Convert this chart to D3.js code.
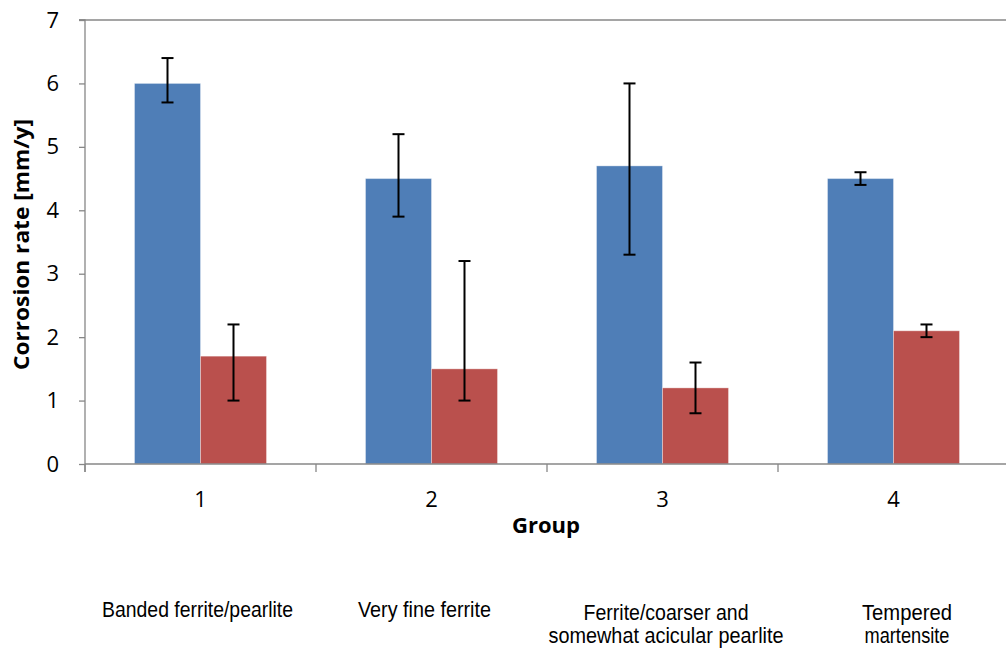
<!DOCTYPE html>
<html>
<head>
<meta charset="utf-8">
<script src="https://cdn.jsdelivr.net/npm/d3@7"></script>
<style>
  html, body { margin: 0; padding: 0; background: #fff; }
  svg { display: block; }
</style>
</head>
<body>
<svg id="chart" width="1006" height="649"></svg>
<script>
// ---------- data ----------
const groups = ["1", "2", "3", "4"];
const descriptions = [
  ["Banded ferrite/pearlite"],
  ["Very fine ferrite"],
  ["Ferrite/coarser and", "somewhat acicular pearlite"],
  ["Tempered", "martensite"]
];
const seriesNames = ["A", "B"];
const seriesA = [6.0, 4.5, 4.7, 4.5];
const seriesB = [1.7, 1.5, 1.2, 2.1];
const errALow = [5.7, 3.9, 3.3, 4.4];
const errAHigh = [6.4, 5.2, 6.0, 4.6];
const errBLow = [1.0, 1.0, 0.8, 2.0];
const errBHigh = [2.2, 3.2, 1.6, 2.2];
const yTicks = [0, 1, 2, 3, 4, 5, 6, 7];
const yTitle = "Corrosion rate [mm/y]";
const xTitle = "Group";

// ---------- layout (not data) ----------
const colors = { A: "#4F7EB7", B: "#BA504D" };
const descLayout = [
  { dx: -3, y: [617], w: [191] },
  { dx: -7, y: [617], w: [133] },
  { dx: 3.5, y: [620, 643], w: [165, 235] },
  { dx: 13.5, y: [620, 643], w: [90, 85] }
];

(function () {
const svg = d3.select("#chart");
const mLeft = 85, mRight = 1009, mTop = 20, mBottom = 464;

const x = d3.scaleBand().domain(groups).range([mLeft, mRight]).padding(0);
const xs = d3.scaleBand().domain(seriesNames).range([0, x.bandwidth()])
  .paddingInner(0).paddingOuter(0.75);
const y = d3.scaleLinear().domain([0, 7]).range([mBottom, mTop]);

const rows = groups.map((g, i) => ({
  g,
  vals: [
    { s: "A", v: seriesA[i], lo: errALow[i], hi: errAHigh[i] },
    { s: "B", v: seriesB[i], lo: errBLow[i], hi: errBHigh[i] }
  ]
}));

const axisColor = "#878787";

// top border of plot area
svg.append("line")
  .attr("x1", mLeft - 6).attr("x2", 1006)
  .attr("y1", y(7)).attr("y2", y(7))
  .attr("stroke", axisColor).attr("stroke-width", 1.3);

// bars
const gg = svg.append("g").selectAll("g").data(rows).join("g")
  .attr("transform", d => `translate(${x(d.g)},0)`);

gg.selectAll("rect").data(d => d.vals).join("rect")
  .attr("x", d => xs(d.s))
  .attr("width", xs.bandwidth())
  .attr("y", d => y(d.v))
  .attr("height", d => y(0) - y(d.v))
  .attr("fill", d => colors[d.s])
  .attr("stroke", "rgba(255,255,255,0.35)")
  .attr("stroke-width", 1);

// error bars
const eb = gg.selectAll("g.err").data(d => d.vals).join("g").attr("class", "err")
  .attr("transform", d => `translate(${xs(d.s) + xs.bandwidth() / 2},0)`);
eb.append("line").attr("x1", 0).attr("x2", 0)
  .attr("y1", d => y(d.lo)).attr("y2", d => y(d.hi))
  .attr("stroke", "#000").attr("stroke-width", 2);
eb.append("line").attr("x1", -6).attr("x2", 6)
  .attr("y1", d => y(d.hi)).attr("y2", d => y(d.hi))
  .attr("stroke", "#000").attr("stroke-width", 2);
eb.append("line").attr("x1", -6).attr("x2", 6)
  .attr("y1", d => y(d.lo)).attr("y2", d => y(d.lo))
  .attr("stroke", "#000").attr("stroke-width", 2);

// y axis
const yAxis = d3.axisLeft(y).tickValues(yTicks).tickSize(6).tickPadding(20)
  .tickFormat(d3.format("d"));
const yg = svg.append("g").attr("transform", `translate(${mLeft},0)`).call(yAxis);
yg.select(".domain").attr("stroke", axisColor).attr("stroke-width", 1.3)
  .attr("d", `M-6,${mTop}H0V${mBottom + 8}`);
yg.selectAll(".tick line").attr("stroke", axisColor).attr("stroke-width", 1.3);
yg.selectAll(".tick text")
  .attr("font-family", "'Open Sans', 'Noto Sans', sans-serif")
  .attr("font-size", 22).attr("fill", "#000");

// x axis
const xAxis = d3.axisBottom(x).tickSize(0).tickPadding(0).tickFormat("");
const xg = svg.append("g").attr("transform", `translate(0,${mBottom})`).call(xAxis);
xg.select(".domain").attr("stroke", axisColor).attr("stroke-width", 1.3)
  .attr("d", `M${mLeft},0H${mRight}`);
xg.selectAll(".tick").remove();
const boundaries = groups.map(g => x(g)).concat([mRight]);
xg.selectAll("line.bt").data(boundaries).join("line").attr("class", "bt")
  .attr("x1", d => d).attr("x2", d => d).attr("y1", 0).attr("y2", 8)
  .attr("stroke", axisColor).attr("stroke-width", 1.3);

// group numbers
svg.append("g").selectAll("text").data(groups).join("text")
  .attr("x", d => x(d) + x.bandwidth() / 2)
  .attr("y", 507)
  .attr("text-anchor", "middle")
  .attr("font-family", "'Open Sans', 'Noto Sans', sans-serif")
  .attr("font-size", 22)
  .attr("fill", "#000")
  .text(d => d);

// x title
svg.append("text")
  .attr("x", (mLeft + mRight) / 2 - 1).attr("y", 533)
  .attr("text-anchor", "middle")
  .attr("font-family", "'Open Sans', 'Noto Sans', sans-serif")
  .attr("font-weight", "bold").attr("font-size", 21)
  .attr("textLength", 68).attr("lengthAdjust", "spacingAndGlyphs")
  .attr("fill", "#000")
  .text(xTitle);

// y title
svg.append("text")
  .attr("transform", "translate(29,244.5) rotate(-90)")
  .attr("text-anchor", "middle")
  .attr("font-family", "'Open Sans', 'Noto Sans', sans-serif")
  .attr("font-weight", "bold").attr("font-size", 20.5)
  .attr("textLength", 251).attr("lengthAdjust", "spacingAndGlyphs")
  .attr("fill", "#000")
  .text(yTitle);

// descriptions
const dg = svg.append("g").selectAll("g").data(groups).join("g");
dg.each(function (g, i) {
  const L = descLayout[i];
  const cx = x(g) + x.bandwidth() / 2 + L.dx;
  descriptions[i].forEach((line, j) => {
    d3.select(this).append("text")
      .attr("x", cx - L.w[j] / 2).attr("y", L.y[j])
      .attr("font-family", "'Liberation Sans Narrow', 'Arial Narrow', 'Liberation Sans', Arial, sans-serif")
      .attr("font-size", 22.5)
      .attr("textLength", L.w[j]).attr("lengthAdjust", "spacingAndGlyphs")
      .attr("fill", "#000")
      .text(line);
  });
});
})();
</script>
</body>
</html>
